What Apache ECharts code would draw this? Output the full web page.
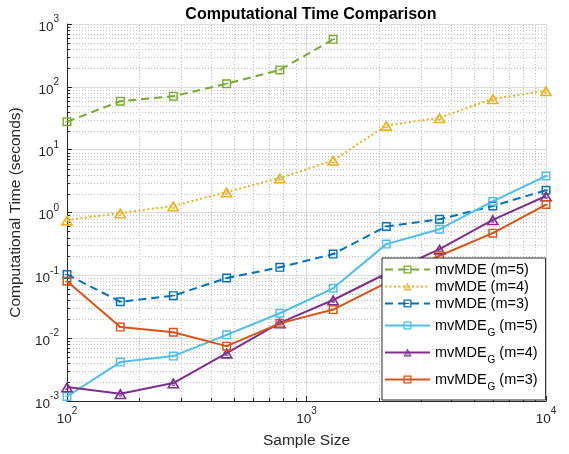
<!DOCTYPE html>
<html>
<head>
<meta charset="utf-8">
<script src="https://cdn.jsdelivr.net/npm/echarts@6/dist/echarts.min.js"></script>
<style>
  html, body { margin: 0; padding: 0; background: #fff; }
  #chart { width: 569px; height: 454px; }
</style>
</head>
<body>
<div id="chart"></div>
<script>
// sample sizes (log spaced 10^2 .. 10^4)
const sampleSize = [100, 167, 278, 464, 774, 1292, 2154, 3594, 5995, 10000];

// computational time in seconds
const mvmde5 = [27.8, 59, 71, 112, 186, 570];
const mvmde4 = [0.755, 0.98, 1.27, 2.12, 3.54, 6.76, 24.3, 32.2, 64.6, 86.5];
const mvmde3 = [0.103, 0.038, 0.0475, 0.0906, 0.134, 0.218, 0.6, 0.78, 1.27, 2.26];
const mvmdeG5 = [0.00118, 0.00416, 0.00518, 0.0113, 0.0249, 0.0622, 0.314, 0.543, 1.5, 3.81];
const mvmdeG4 = [0.00167, 0.0013, 0.00193, 0.00578, 0.0175, 0.0405, 0.107, 0.261, 0.764, 1.83];
const mvmdeG3 = [0.0804, 0.015, 0.0124, 0.00747, 0.0172, 0.0285, 0.076, 0.205, 0.469, 1.34];

const xRange = [100, 10000];
const yRange = [0.001, 1000];

// minor grid positions (2..9 times each decade)
const xMinor = [];
const yMinor = [];
for (let e = 2; e < 4; e++) for (let k = 2; k <= 9; k++) xMinor.push(k * Math.pow(10, e));
for (let e = -3; e < 3; e++) for (let k = 2; k <= 9; k++) yMinor.push(k * Math.pow(10, e));

const axisColor = '#262626';
const squareSym = 'path://M0 0H10V10H0Z M1.6 1.6V8.4H8.4V1.6Z M3 4.3H7V5.7H3Z';
const triSym = 'path://M5 0L10 9L0 9Z M5 2.9L2.1 7.7H7.9Z M3.7 5.6H6.3V6.7H3.7Z';

function pairs(ys) {
  return ys.map((y, i) => [sampleSize[i], y]);
}

function lineSeries(name, ys, color, dash, symbol) {
  const tri = symbol === triSym;
  return {
    name: name,
    type: 'line',
    data: pairs(ys),
    symbol: symbol,
    symbolSize: tri ? [13, 11] : [9, 9],
    showSymbol: true,
    z: 3,
    lineStyle: { color: color, width: 2, type: dash },
    itemStyle: { color: color },
    emphasis: { disabled: true }
  };
}

function minorSeries(values, dir) {
  return {
    type: 'custom',
    silent: true,
    z: 1,
    data: values.map(v => (dir === 'x' ? [v, yRange[0]] : [xRange[0], v])),
    renderItem(params, api) {
      const v = api.value(dir === 'x' ? 0 : 1);
      const a = api.coord(dir === 'x' ? [v, yRange[0]] : [xRange[0], v]);
      const b = api.coord(dir === 'x' ? [v, yRange[1]] : [xRange[1], v]);
      const crisp = p => Math.round(p) + 0.5;
      let shape, tick;
      if (dir === 'x') {
        const x = crisp(a[0]);
        shape = { x1: x, y1: a[1], x2: x, y2: b[1] };
        tick = { x1: x, y1: a[1], x2: x, y2: a[1] - 3 };
      } else {
        const y = crisp(a[1]);
        shape = { x1: a[0], y1: y, x2: b[0], y2: y };
        tick = { x1: a[0], y1: y, x2: a[0] + 3, y2: y };
      }
      return {
        type: 'group',
        children: [
          { type: 'line', shape: shape, style: { stroke: '#c4c4c4', lineWidth: 1, lineDash: [1, 2] } },
          { type: 'line', shape: tick, style: { stroke: axisColor, lineWidth: 1 } }
        ]
      };
    }
  };
}

const tickRich = {
  b: { fontSize: 13.5, color: axisColor, fontFamily: 'Liberation Sans', lineHeight: 14, padding: [6, 0, 0, 0] },
  e: { fontSize: 10, color: axisColor, fontFamily: 'Liberation Sans', lineHeight: 10, padding: [0, 0, 9, 0] }
};
const powLabel = v => '{b|10}{e|' + Math.round(Math.log10(v)) + '}';

const chart = echarts.init(document.getElementById('chart'), null, { renderer: 'canvas' });

chart.setOption({
  animation: false,
  backgroundColor: '#fff',
  textStyle: { fontFamily: 'Liberation Sans' },
  title: {
    text: 'Computational Time Comparison',
    left: 306,
    top: 2,
    textAlign: 'center',
    textStyle: { fontSize: 16, fontWeight: 'bold', color: '#000', fontFamily: 'Liberation Sans' }
  },
  grid: { left: 67, right: 23, top: 24, bottom: 52, containLabel: false },
  legend: {
    left: 382,
    top: 258,
    orient: 'vertical',
    itemWidth: 45,
    itemHeight: 10,
    itemGap: 2,
    padding: [4, 8, 8, 2],
    backgroundColor: '#fff',
    borderColor: axisColor,
    borderWidth: 1,
    borderRadius: 0,
    data: ['mvMDE (m=5)', 'mvMDE (m=4)', 'mvMDE (m=3)', 'mvMDE_G (m=5)', 'mvMDE_G (m=4)', 'mvMDE_G (m=3)'],
    formatter: name => {
      if (name.indexOf('_G') >= 0) {
        const parts = name.split('_G');
        return '{g|' + parts[0] + '}{s|G}{g|' + parts[1] + '}';
      }
      return '{b|' + name + '}';
    },
    textStyle: {
      color: '#000',
      rich: {
        b: { fontSize: 14.5, lineHeight: 16, color: '#000', fontFamily: 'Liberation Sans' },
        g: { fontSize: 14.5, lineHeight: 16, color: '#000', fontFamily: 'Liberation Sans' },
        s: { fontSize: 10, lineHeight: 6, color: '#000', fontFamily: 'Liberation Sans', padding: [15, 0, 0, 1] }
      }
    }
  },
  xAxis: {
    type: 'log',
    logBase: 10,
    min: xRange[0],
    max: xRange[1],
    name: 'Sample Size',
    nameLocation: 'middle',
    nameGap: 32,
    nameTextStyle: { fontSize: 15.5, color: axisColor, fontFamily: 'Liberation Sans' },
    axisLine: { show: true, lineStyle: { color: axisColor, width: 1 } },
    axisTick: { show: true, inside: true, length: 5, lineStyle: { color: axisColor } },
    axisLabel: { margin: 8, formatter: powLabel, rich: tickRich },
    splitLine: { show: true, lineStyle: { color: '#dcdcdc', width: 1 } }
  },
  yAxis: {
    type: 'log',
    logBase: 10,
    min: yRange[0],
    max: yRange[1],
    name: 'Computational Time (seconds)',
    nameLocation: 'middle',
    nameGap: 37,
    nameTextStyle: { fontSize: 15.5, color: axisColor, fontFamily: 'Liberation Sans' },
    axisLine: { show: true, lineStyle: { color: axisColor, width: 1 } },
    axisTick: { show: true, inside: true, length: 5, lineStyle: { color: axisColor } },
    axisLabel: { margin: 8, formatter: powLabel, rich: tickRich },
    splitLine: { show: true, lineStyle: { color: '#dcdcdc', width: 1 } }
  },
  series: [
    minorSeries(xMinor, 'x'),
    minorSeries(yMinor, 'y'),
    lineSeries('mvMDE (m=5)', mvmde5, '#77AC30', [8, 5], squareSym),
    lineSeries('mvMDE (m=4)', mvmde4, '#EDB120', [2, 2.5], triSym),
    lineSeries('mvMDE (m=3)', mvmde3, '#0072BD', [8, 5], squareSym),
    lineSeries('mvMDE_G (m=5)', mvmdeG5, '#4DBEEE', 'solid', squareSym),
    lineSeries('mvMDE_G (m=4)', mvmdeG4, '#7E2F8E', 'solid', triSym),
    lineSeries('mvMDE_G (m=3)', mvmdeG3, '#D95319', 'solid', squareSym)
  ]
});
</script>
</body>
</html>
